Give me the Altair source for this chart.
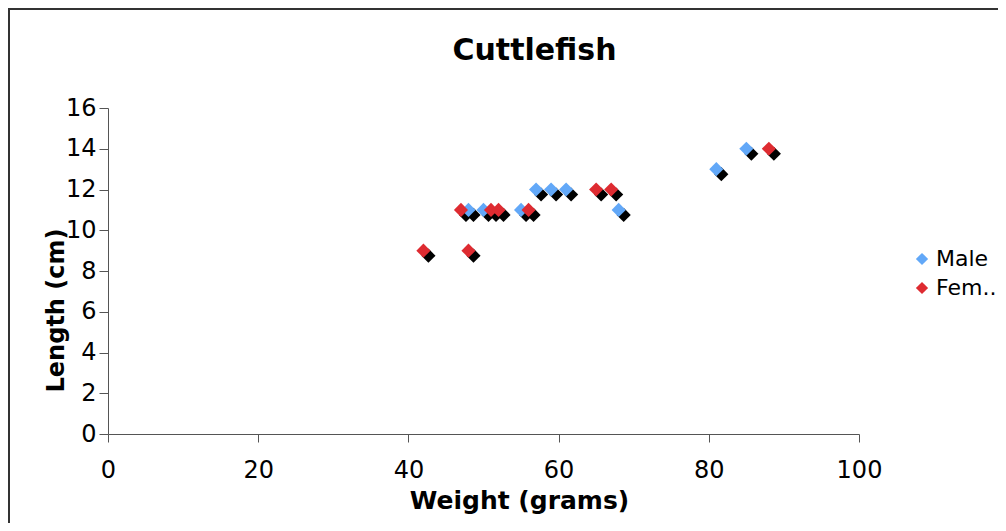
import altair as alt
import pandas as pd

male_weight = [48, 50, 55, 57, 59, 61, 68, 81, 85]
male_length = [11, 11, 11, 12, 12, 12, 11, 13, 14]
female_weight = [42, 47, 48, 51, 52, 56, 65, 67, 88]
female_length = [9, 11, 9, 11, 11, 11, 12, 12, 14]
series = ["Male", "Female"]
colors = ["#62A8F8", "#DE2B31"]
x_ticks = [0, 20, 40, 60, 80, 100]
y_ticks = [0, 2, 4, 6, 8, 10, 12, 14, 16]

df = pd.DataFrame({
    "Weight": male_weight + female_weight,
    "Length": male_length + female_length,
    "Sex": ["Male"] * len(male_weight) + ["Female"] * len(female_weight),
})

W, H = 751, 326
FONT = "DejaVu Sans"

x_enc = alt.X("Weight:Q", scale=alt.Scale(domain=[0, 100], nice=False),
              axis=alt.Axis(values=x_ticks, title="Weight (grams)", grid=False,
                            labelFontSize=24, labelFont=FONT, labelColor="#000",
                            labelPadding=16, labelFlush=False, tickSize=8, tickColor="#555",
                            domainColor="#555", titleFontSize=25, titleFont=FONT,
                            titleFontWeight="bold", titleColor="#000",
                            titleX=411, titleY=66, titleAlign="center",
                            titleBaseline="middle"))
y_enc = alt.Y("Length:Q", scale=alt.Scale(domain=[0, 16], nice=False),
              axis=alt.Axis(values=y_ticks, title="Length (cm)", grid=False,
                            labelFontSize=24, labelFont=FONT, labelColor="#000",
                            labelPadding=3, labelFlush=False, tickSize=9, tickColor="#555",
                            domainColor="#555", titleFontSize=24, titleFont=FONT,
                            titleFontWeight="bold", titleColor="#000",
                            titleX=-52, titleY=202, titleAlign="center",
                            titleBaseline="middle", titleAngle=-90))

shadow = alt.Chart(df).mark_point(shape="diamond", filled=True, size=200,
                                  color="black", opacity=1, xOffset=5, yOffset=5).encode(
    x=x_enc, y=y_enc)

pts = alt.Chart(df).mark_point(shape="diamond", filled=True, size=200, opacity=1).encode(
    x=x_enc, y=y_enc,
    color=alt.Color("Sex:N", scale=alt.Scale(domain=series, range=colors),
                    legend=alt.Legend(title=None, orient="none", legendX=803, legendY=140,
                                      symbolType="diamond", symbolSize=150,
                                      labelFontSize=22, labelFont=FONT, labelColor="#000",
                                      rowPadding=7, padding=0, labelOffset=3,
                                      labelExpr="datum.label == 'Female' ? 'Fem..' : datum.label")),
    order=alt.Order("Sex:N", sort="descending"),
)

frame = alt.Chart(pd.DataFrame({"a": [0]})).mark_rect(
    fill=None, stroke="#333", strokeWidth=2).encode(
    x=alt.value(-99), x2=alt.value(W + 200), y=alt.value(-99), y2=alt.value(H + 200))

chart = alt.layer(shadow, pts, frame).properties(
    width=W, height=H,
    title=alt.TitleParams("Cuttlefish", fontSize=30, font=FONT, fontWeight="bold",
                          color="#000", anchor="middle", dx=51, offset=-82,
                          baseline="alphabetic"),
    padding={"left": 100, "top": 100, "right": 139, "bottom": 89},
    autosize=alt.AutoSizeParams(type="none"),
).configure_view(stroke=None)

chart.save("out.html", embed_options={"renderer": "svg", "actions": False})
